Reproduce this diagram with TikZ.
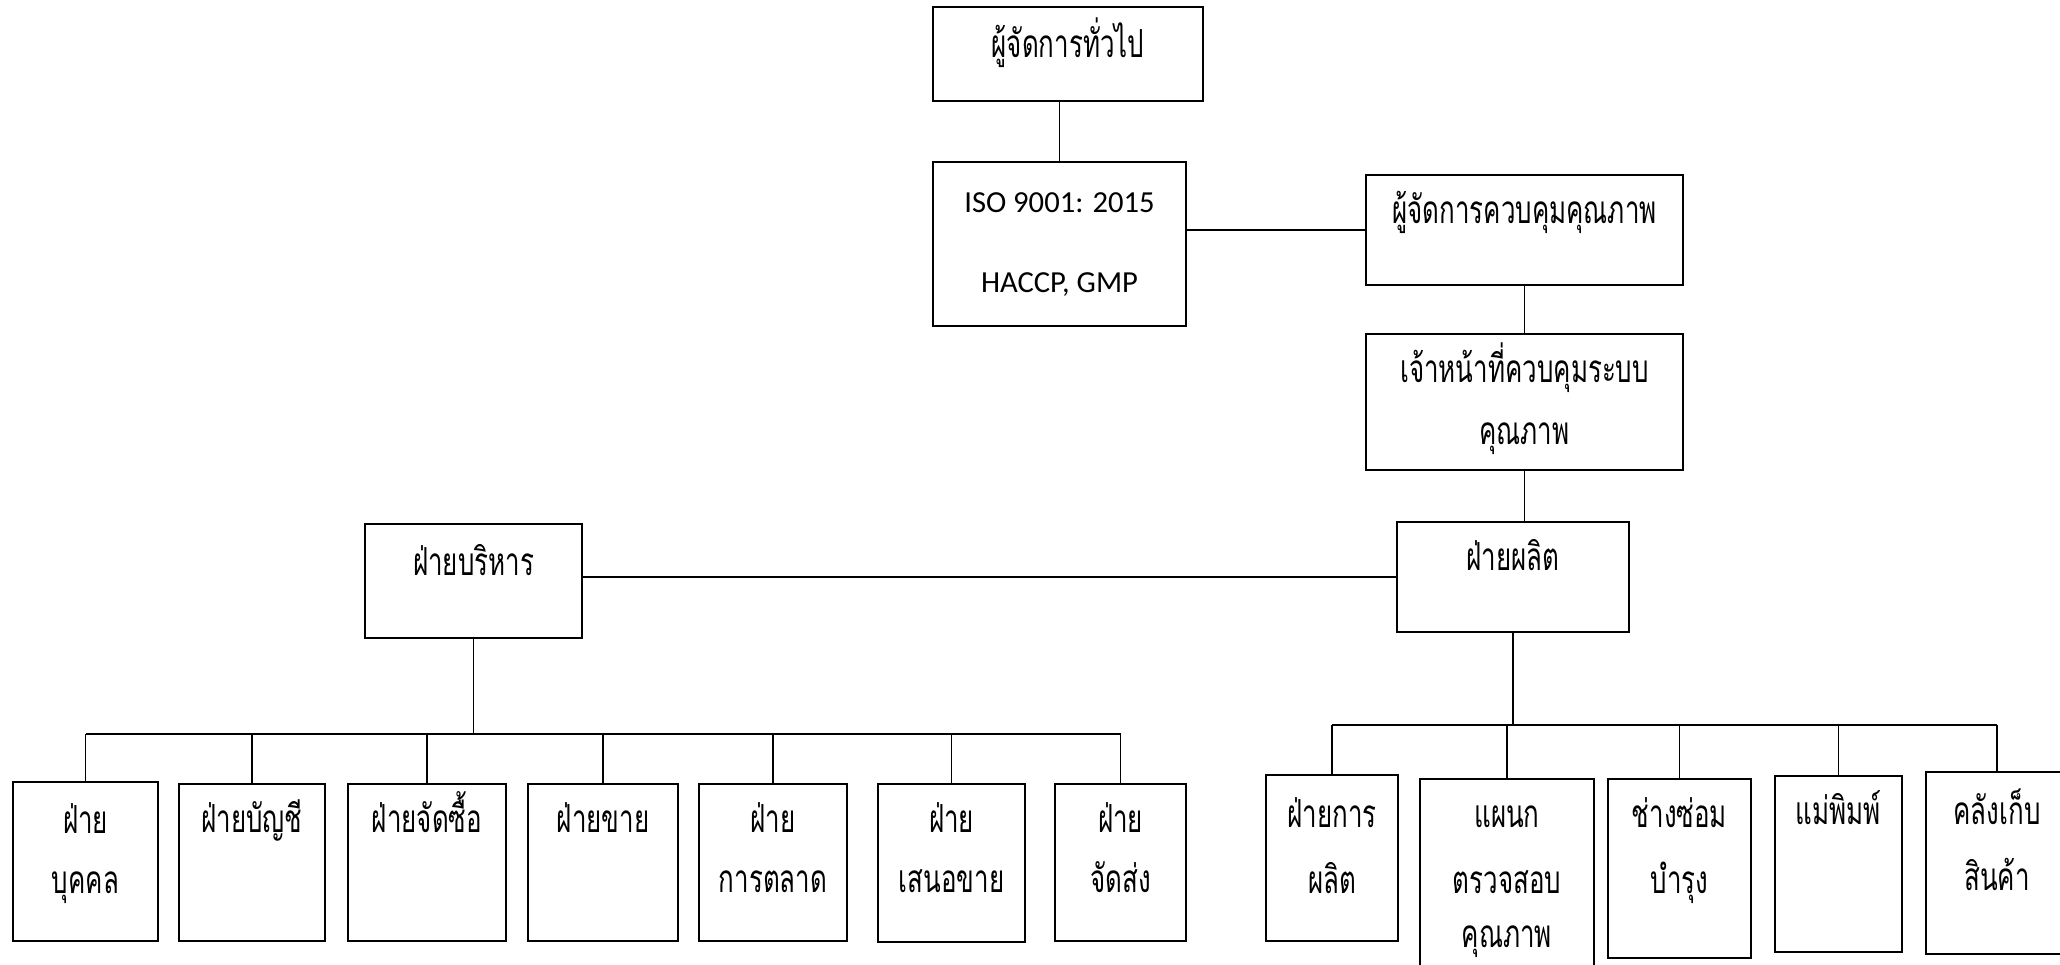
\documentclass[tikz,border=0pt]{standalone}
\usepackage{fontspec}
\setmainfont{Carlito}
\newfontfamily\thaifont[Script=Thai,FakeStretch=0.67]{Loma}
\usepackage{tikz}
\usetikzlibrary{fit}

\tikzset{
	unit/.style={draw, line width=0.7pt, inner sep=0pt},
	link/.style={line width=0.35pt},
	unitlabel/.style={align=center, anchor=north, inner sep=0pt, font=\thaifont\fontsize{11}{17.07}\selectfont},
	isolabel/.style={font=\rmfamily\fontsize{8.7}{17.07}\selectfont}
}
\def\unitbox[#1](#2)(#3,#4)(#5,#6)#7{%
	\node[unit, fit={(#3,#4) (#5,#6)}] (#2) {};
	\node[unitlabel, #1] (#2t) at ({(#3+#5)/2},{#4+6}) {\rule{0pt}{12pt}#7};}

\begin{document}
\begin{tikzpicture}[x=0.01cm, y=-0.01cm]
		%%%%% START %%%%%
		\useasboundingbox (0,0) rectangle (2060,965);
		\clip (0,0) rectangle (2060,965);
		
		\unitbox[yshift=-0.02cm](gm)(933,7)(1203,101){ผู้จัดการทั่วไป}
		\unitbox[isolabel, yshift=-0.02cm](iso)(933,162)(1186,326){ISO 9001: 2015\\[5.5pt]HACCP, GMP}
		\unitbox[](qm)(1366,175)(1683,285){ผู้จัดการควบคุมคุณภาพ}
		\unitbox[](qo)(1366,334)(1683,470){เจ้าหน้าที่ควบคุมระบบ\\[0.5pt]คุณภาพ}
		\unitbox[](prod)(1397,522)(1629,632){ฝ่ายผลิต}
		\unitbox[yshift=-0.03cm](admin)(365,524)(582,638){ฝ่ายบริหาร}
		
		\unitbox[yshift=-0.03cm](hr)(13,782)(158,941){ฝ่าย\\บุคคล}
		\unitbox[](acc)(179,784)(325,941){ฝ่ายบัญชี}
		\unitbox[](buy)(348,784)(506,941){ฝ่ายจัดซื้อ}
		\unitbox[](sale)(528,784)(678,941){ฝ่ายขาย}
		\unitbox[](mkt)(699,784)(847,941){ฝ่าย\\การตลาด}
		\unitbox[](offer)(878,784)(1025,942){ฝ่าย\\เสนอขาย}
		\unitbox[](ship)(1055,784)(1186,941){ฝ่าย\\จัดส่ง}
		
		\unitbox[yshift=-0.04cm](mfg)(1266,775)(1398,941){ฝ่ายการ\\[1.5pt]ผลิต}
		\unitbox[](qc)(1420,779)(1594,975){แผนก\\[1.5pt]ตรวจสอบ\\[-1.5pt]คุณภาพ}
		\unitbox[](mnt)(1608,779)(1751,958){ช่างซ่อม\\[1.5pt]บำรุง}
		\unitbox[](mold)(1775,776)(1902,952){แม่พิมพ์}
		\unitbox[yshift=-0.04cm](store)(1926,772)(2068,954){คลังเก็บ\\[1.5pt]สินค้า}
		
		\coordinate (lbar) at (476,734);
		\coordinate (rbar) at (1521,725);
		
		\draw[link] (iso.north) -- (iso.north |- gm.south);
		\draw[link] (iso.east |- qm.west) -- (qm.west);
		\draw[link] (qm) -- (qo);
		\draw[link] (qo.south) -- (qo.south |- prod.north);
		\draw[link] (admin.east |- prod.west) -- (prod.west);
		
		\draw[link] (admin.south) -- (admin.south |- lbar);
		\draw[link] (hr.north |- lbar) -- (ship.north |- lbar);
		\foreach \u in {hr,acc,buy,sale,mkt,offer,ship}
			\draw[link] (\u.north |- lbar) -- (\u.north);
		
		\draw[link] (prod.south) -- (prod.south |- rbar);
		\draw[link] (mfg.north |- rbar) -- (store.north |- rbar);
		\foreach \u in {mfg,qc,mnt,mold,store}
			\draw[link] (\u.north |- rbar) -- (\u.north);
		%%%%% END %%%%%
\end{tikzpicture}
\end{document}
